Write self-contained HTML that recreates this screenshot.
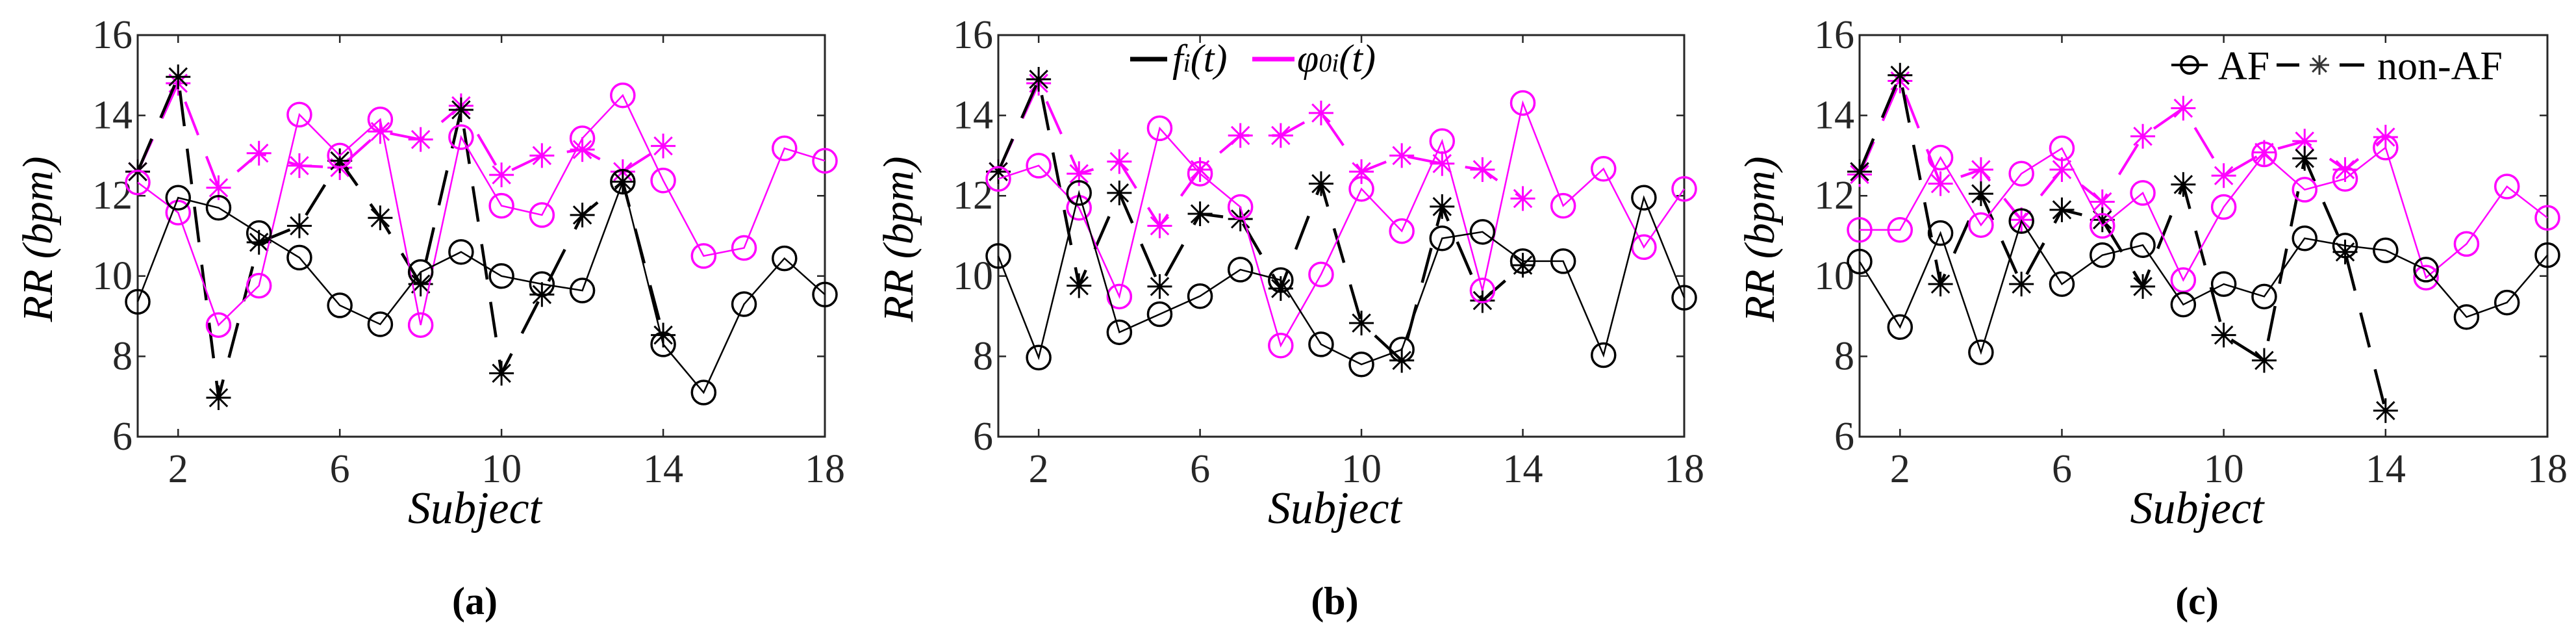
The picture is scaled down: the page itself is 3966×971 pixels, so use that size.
<!DOCTYPE html>
<html><head><meta charset="utf-8"><style>
html,body{margin:0;padding:0;background:#fff;}
svg{display:block;font-family:"Liberation Serif","DejaVu Serif",serif;}
svg text{font-family:"Liberation Serif","DejaVu Serif",serif !important;}
</style></head><body>
<svg id="fig" width="3966" height="971" viewBox="0 0 3966 971" xmlns="http://www.w3.org/2000/svg" font-family="Liberation Serif, serif"></svg>
<script>
const subjects = [1,2,3,4,5,6,7,8,9,10,11,12,13,14,15,16,17,18];
const xTicks = [2,6,10,14,18];
const yTicks = [6,8,10,12,14,16];
// Panel (a)
const aAfBlack   = [9.36,11.95,11.7,11.07,10.46,9.27,8.8,10.1,10.6,10.0,9.8,9.64,12.35,8.3,7.1,9.3,10.44,9.54];
const aAfMag     = [12.33,11.58,8.78,9.76,14.02,13.0,13.9,8.78,13.46,11.75,11.52,13.43,14.5,12.38,10.5,10.7,13.18,12.87];
const aNonBlack  = [12.6,14.96,6.97,10.84,11.25,12.87,11.45,9.8,14.14,7.58,9.54,11.52,12.35,8.53];
const aNonMag    = [12.6,14.8,12.2,13.06,12.75,12.7,13.6,13.4,14.24,12.52,13.0,13.15,12.6,13.24];
// Panel (b)
const bAfBlack   = [10.5,7.97,12.07,8.6,9.05,9.5,10.16,9.9,8.3,7.8,8.17,10.94,11.1,10.37,10.37,8.03,11.95,9.46];
const bAfMag     = [12.42,12.75,11.7,9.49,13.68,12.55,11.72,8.27,10.04,12.17,11.12,13.36,9.64,14.31,11.75,12.67,10.72,12.17];
const bNonBlack  = [12.6,14.9,9.76,12.07,9.74,11.55,11.42,9.69,12.3,8.83,7.9,11.73,9.39,10.27];
const bNonMag    = [12.6,14.8,12.55,12.85,11.25,12.65,13.5,13.5,14.06,12.6,13.0,12.8,12.65,11.93];
// Panel (c)
const cAfBlack   = [10.36,8.73,11.07,8.1,11.37,9.8,10.52,10.77,9.29,9.8,9.49,10.94,10.76,10.64,10.16,8.98,9.34,10.52];
const cAfMag     = [11.15,11.15,12.95,11.27,12.55,13.18,11.25,12.07,9.9,11.72,13.03,12.15,12.42,13.2,9.96,10.8,12.23,11.45];
const cNonBlack  = [12.6,15.0,9.8,12.05,9.8,11.65,11.4,9.74,12.28,8.53,7.9,12.93,10.6,6.65];
const cNonMag    = [12.53,14.86,12.3,12.65,11.4,12.65,11.85,13.48,14.18,12.5,13.08,13.36,12.65,13.46];

const NS="http://www.w3.org/2000/svg";
const svg=document.getElementById('fig');
function mk(tag,attrs,parent){const e=document.createElementNS(NS,tag);for(const k in attrs)e.setAttribute(k,attrs[k]);if(tag==='text'){e.setAttribute('font-family','Liberation Serif, DejaVu Serif, serif');e.style.fontFamily='"Liberation Serif","DejaVu Serif",serif';}(parent||svg).appendChild(e);return e;}

const panels=[
 {id:'a',L:212,R:1270,T:54,B:672,data:[aAfBlack,aAfMag,aNonBlack,aNonMag]},
 {id:'b',L:1537,R:2593,T:54,B:672,data:[bAfBlack,bAfMag,bNonBlack,bNonMag]},
 {id:'c',L:2863,R:3922,T:54,B:672,data:[cAfBlack,cAfMag,cNonBlack,cNonMag]}
];
const MAG='#ff00ff';

function star(g,cx,cy,r,col,w){
  const d=r*0.72;
  const p=mk('path',{d:`M${cx-r} ${cy}H${cx+r}M${cx} ${cy-r}V${cy+r}M${cx-d} ${cy-d}L${cx+d} ${cy+d}M${cx-d} ${cy+d}L${cx+d} ${cy-d}`,stroke:col,'stroke-width':w,fill:'none'},g);
  
  
}

panels.forEach(P=>{
  const g=mk('g',{});
  
  
  const xs=v=>P.L+(v-1)/17*(P.R-P.L);
  const ys=v=>P.B-(v-6)/10*(P.B-P.T);
  const box=mk('rect',{x:P.L,y:P.T,width:P.R-P.L,height:P.B-P.T,fill:'none',stroke:'#262626','stroke-width':3},g);
  
  
  xTicks.forEach(t=>{
    const x=xs(t);
    mk('path',{d:`M${x} ${P.B}V${P.B-12}M${x} ${P.T}V${P.T+12}`,stroke:'#262626','stroke-width':2.5},g);
    const tx=mk('text',{x:x,y:P.B+70,'font-size':62,'text-anchor':'middle',fill:'#262626'},g);
    tx.textContent=t;
    
    
  });
  yTicks.forEach(t=>{
    const y=ys(t);
    mk('path',{d:`M${P.L} ${y}H${P.L+12}M${P.R} ${y}H${P.R-12}`,stroke:'#262626','stroke-width':2.5},g);
    const tx=mk('text',{x:P.L-8,y:y+20,'font-size':62,'text-anchor':'end',fill:'#262626'},g);
    tx.textContent=t;
    
    
  });
  const yl=mk('text',{x:0,y:0,'font-size':66,'font-style':'italic','text-anchor':'middle',transform:`translate(${P.L-132},${(P.T+P.B)/2+5}) rotate(-90)`},g);
  yl.textContent='RR (bpm)';
  
  
  const xl=mk('text',{x:(P.L+P.R)/2-10,y:805,'font-size':70,'font-style':'italic','text-anchor':'middle'},g);
  xl.textContent='Subject';
  
  
  const cap=mk('text',{x:(P.L+P.R)/2-10,y:945,'font-size':60,'font-weight':'bold','text-anchor':'middle'},g);
  cap.textContent='('+P.id+')';
  
  

  const [afB,afM,nB,nM]=P.data;
  const series=[
    {v:nM,col:MAG,dash:'55 35',w:4,m:'star',name:'nonaf-phi-line'},
    {v:nB,col:'#000',dash:'55 35',w:4.5,m:'star',name:'nonaf-f-line'},
    {v:afM,col:MAG,dash:'',w:2.5,m:'circle',name:'af-phi-line'},
    {v:afB,col:'#000',dash:'',w:2.5,m:'circle',name:'af-f-line'}
  ];
  series.forEach(s=>{
    const pts=s.v.map((v,i)=>xs(subjects[i])+','+ys(v)).join(' ');
    const pl=mk('polyline',{points:pts,fill:'none',stroke:s.col,'stroke-width':s.w,'stroke-dasharray':s.dash||'none'},g);
    
    
    s.v.forEach((v,i)=>{
      if(s.m==='circle'){
        const c=mk('circle',{cx:xs(subjects[i]),cy:ys(v),r:18,fill:'none',stroke:s.col,'stroke-width':3.5},g);
        
        
      } else star(g,xs(subjects[i]),ys(v),19,s.col,3);
    });
  });
});

// Legend (b)
const lb=mk('g',{});


mk('line',{x1:1740,y1:91,x2:1797,y2:91,stroke:'#000','stroke-width':7},lb);
const lt1=mk('text',{x:1805,y:110,'font-size':60,'font-style':'italic'},lb);
lt1.innerHTML='f<tspan font-size="40">i</tspan>(t)';


mk('line',{x1:1928,y1:91,x2:1993,y2:91,stroke:MAG,'stroke-width':7},lb);
const lt2=mk('text',{x:1997,y:110,'font-size':60,'font-style':'italic'},lb);
lt2.innerHTML='φ<tspan font-size="40">0i</tspan>(t)';



// Legend (c)
const lc=mk('g',{});


mk('line',{x1:3343,y1:100,x2:3399,y2:100,stroke:'#000','stroke-width':4},lc);
mk('circle',{cx:3371,cy:100,r:13,fill:'none',stroke:'#000','stroke-width':4},lc);
const ct1=mk('text',{x:3415,y:122,'font-size':62},lc);
ct1.textContent='AF';


mk('line',{x1:3505,y1:100,x2:3540,y2:100,stroke:'#000','stroke-width':5},lc);
star(lc,3571,100,15,'#333',3);
mk('line',{x1:3602,y1:100,x2:3640,y2:100,stroke:'#000','stroke-width':5},lc);
const ct2=mk('text',{x:3660,y:122,'font-size':62},lc);
ct2.textContent='non-AF';


</script>
</body></html>
